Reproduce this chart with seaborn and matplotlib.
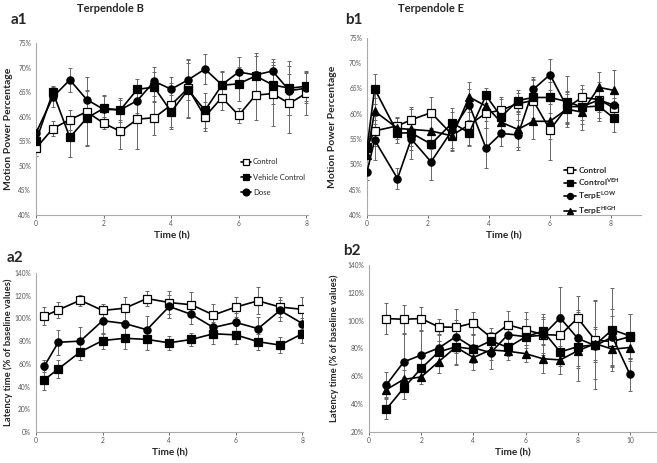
import numpy as np
import pandas as pd
import matplotlib
matplotlib.use('Agg')
import matplotlib.pyplot as plt
import seaborn as sns

# ---- a1 : Terpendole B, motion power ----
a1_t = [0, 0.5, 1, 1.5, 2, 2.5, 3, 3.5, 4, 4.5, 5, 5.5, 6, 6.5, 7, 7.5, 8]
a1_ctrl = [53.6, 57.6, 59.4, 61.0, 58.7, 57.0, 59.5, 59.8, 62.4, 65.8, 60.0, 63.9, 60.3, 64.4, 64.7, 62.7, 64.8]
a1_ctrl_err = [1.5, 1.5, 2.0, 7.0, 1.2, 3.5, 6.0, 3.5, 4.5, 6.0, 3.0, 2.5, 1.5, 5.0, 6.5, 6.0, 4.5]
a1_veh = [55.0, 65.0, 55.8, 59.7, 61.7, 61.4, 65.6, 66.0, 61.0, 65.5, 61.3, 66.4, 66.7, 68.3, 66.5, 65.8, 66.2]
a1_veh_err = [1.5, 1.2, 4.0, 5.5, 2.5, 2.0, 2.0, 3.0, 3.5, 5.5, 3.5, 3.0, 3.5, 4.0, 4.0, 5.5, 3.0]
a1_dose = [56.7, 64.0, 67.5, 63.5, 61.5, 61.4, 63.3, 67.2, 65.6, 67.5, 69.7, 66.5, 69.1, 68.5, 69.3, 65.3, 65.8]
a1_dose_err = [1.0, 2.0, 2.5, 2.0, 3.0, 2.5, 2.5, 3.0, 2.5, 4.0, 3.0, 2.5, 3.0, 4.5, 2.5, 5.0, 3.0]

# ---- b1 : Terpendole E, motion power ----
b1_t = [0, 0.25, 1.0, 1.45, 2.1, 2.8, 3.35, 3.9, 4.4, 4.95, 5.45, 6.0, 6.55, 7.05, 7.6, 8.1]
b1_ctrl = [53.5, 56.6, 57.6, 58.8, 60.2, 55.8, 57.8, 60.1, 60.7, 62.0, 62.6, 56.8, 61.2, 63.2, 62.8, 61.1]
b1_ctrl_err = [2.0, 3.0, 1.8, 2.5, 3.0, 3.0, 4.0, 3.0, 2.5, 2.0, 4.0, 6.0, 3.0, 2.5, 2.5, 2.0]
b1_veh = [53.2, 64.9, 56.2, 56.2, 54.0, 58.2, 56.2, 63.6, 59.4, 62.6, 63.2, 63.2, 62.4, 61.3, 61.5, 59.1]
b1_veh_err = [2.0, 3.0, 2.0, 2.5, 3.0, 3.0, 2.5, 1.5, 3.5, 2.0, 4.0, 3.0, 5.0, 2.5, 3.0, 2.8]
b1_low = [48.5, 54.8, 47.2, 55.0, 50.5, 56.8, 61.8, 53.2, 56.1, 55.8, 64.8, 67.7, 61.4, 61.4, 62.7, 61.7]
b1_low_err = [1.5, 4.0, 2.0, 4.0, 3.5, 3.5, 3.0, 4.0, 2.5, 3.0, 2.0, 3.0, 3.0, 3.5, 3.5, 3.0]
b1_high = [51.8, 60.5, 57.1, 56.9, 56.6, 55.6, 63.3, 61.5, 58.3, 56.9, 58.5, 58.5, 60.9, 60.3, 65.2, 64.6]
b1_high_err = [1.5, 2.5, 2.0, 4.0, 3.5, 3.0, 3.0, 3.0, 3.0, 3.5, 3.5, 3.5, 3.0, 3.5, 3.0, 4.0]

# ---- a2 : Terpendole B, latency ----
a2_t = [0.25, 0.67, 1.33, 2, 2.67, 3.33, 4, 4.67, 5.33, 6, 6.67, 7.33, 8]
a2_ctrl = [102, 107.5, 116, 107, 109, 117.5, 114, 112, 103, 110, 115.5, 110, 108]
a2_ctrl_err = [8, 7, 5, 6, 10, 7, 10, 11, 10, 9, 12, 9, 11]
a2_veh = [46, 55.5, 70.5, 80.5, 82.5, 81.5, 78.5, 81.5, 86.5, 85.5, 79.5, 76.5, 86.5]
a2_veh_err = [9, 8, 7, 7, 9, 9, 6, 6, 9, 8, 7, 7, 8]
a2_dose = [58, 79, 80, 98, 95.5, 90, 110.5, 103.5, 92, 96.5, 91, 107, 95.5]
a2_dose_err = [5, 11, 12, 12, 10, 12, 10, 8, 5, 8, 10, 9, 5]

# ---- b2 : Terpendole E, latency ----
b2_t = [0.67, 1.33, 2, 2.67, 3.33, 4, 4.67, 5.33, 6, 6.67, 7.33, 8, 8.67, 9.33, 10]
b2_ctrl = [101.5, 101, 101.5, 95.5, 95.2, 98.3, 88, 97, 93.5, 90, 89.5, 101.8, 86, 85, 88.5]
b2_ctrl_err = [11, 10, 8, 6, 13, 8, 7, 10, 13, 15, 15, 16, 28, 18, 16]
b2_veh = [36.5, 51.6, 65.7, 77.5, 81.2, 79.5, 85.5, 80.8, 88.3, 92.5, 77.5, 81.3, 82.6, 93.5, 89]
b2_veh_err = [7, 8, 8, 8, 13, 10, 6, 6, 6, 9, 10, 25, 32, 30, 16]
b2_low = [54, 70.3, 75.3, 80.3, 88.5, 80.5, 77, 90, 88.5, 89.5, 102, 87.3, 82, 88.3, 61.5]
b2_low_err = [9, 20, 17, 10, 12, 10, 12, 10, 13, 13, 22, 20, 12, 20, 12]
b2_high = [50.5, 57.8, 59.5, 70.5, 81, 73.5, 79, 78, 76.3, 72.6, 71.8, 78.3, 83.5, 79.5, 80.7]
b2_high_err = [6, 7, 5, 8, 12, 9, 7, 6, 6, 10, 10, 12, 12, 12, 10]

sns.set_style('white')
plt.rcParams['font.family'] = ['Lato', 'DejaVu Sans']

fig = plt.figure(figsize=(6.57, 4.63), dpi=100)
ax_a1 = fig.add_axes([0.0548, 0.5356, 0.4140, 0.3715])
ax_b1 = fig.add_axes([0.5586, 0.5356, 0.4178, 0.3830])
ax_a2 = fig.add_axes([0.0548, 0.0670, 0.4064, 0.3434])
ax_b2 = fig.add_axes([0.5616, 0.0670, 0.4368, 0.3607])

styles = {
    'open_sq': dict(marker='s', markerfacecolor='white'),
    'sq': dict(marker='s', markerfacecolor='black'),
    'circ': dict(marker='o', markerfacecolor='black'),
    'tri': dict(marker='^', markerfacecolor='black'),
}


def draw(ax, t, y, err, key, label):
    ax.errorbar(t, y, yerr=err, fmt='none', ecolor='#666666', elinewidth=0.7,
                capsize=1.3, capthick=0.7, zorder=1)
    df = pd.DataFrame({'t': t, 'y': y})
    sns.lineplot(data=df, x='t', y='y', ax=ax, color='black', linewidth=1.2,
                 markersize=5.2, markeredgecolor='black', markeredgewidth=0.9,
                 label=label, zorder=3, **styles[key])


draw(ax_a1, a1_t, a1_ctrl, a1_ctrl_err, 'open_sq', 'Control')
draw(ax_a1, a1_t, a1_veh, a1_veh_err, 'sq', 'Vehicle Control')
draw(ax_a1, a1_t, a1_dose, a1_dose_err, 'circ', 'Dose')

draw(ax_b1, b1_t, b1_ctrl, b1_ctrl_err, 'open_sq', 'Control')
draw(ax_b1, b1_t, b1_veh, b1_veh_err, 'sq', r'Control$^{\mathregular{VEH}}$')
draw(ax_b1, b1_t, b1_low, b1_low_err, 'circ', r'TerpE$^{\mathregular{LOW}}$')
draw(ax_b1, b1_t, b1_high, b1_high_err, 'tri', r'TerpE$^{\mathregular{HIGH}}$')

draw(ax_a2, a2_t, a2_ctrl, a2_ctrl_err, 'open_sq', None)
draw(ax_a2, a2_t, a2_veh, a2_veh_err, 'sq', None)
draw(ax_a2, a2_t, a2_dose, a2_dose_err, 'circ', None)

draw(ax_b2, b2_t, b2_ctrl, b2_ctrl_err, 'open_sq', None)
draw(ax_b2, b2_t, b2_veh, b2_veh_err, 'sq', None)
draw(ax_b2, b2_t, b2_low, b2_low_err, 'circ', None)
draw(ax_b2, b2_t, b2_high, b2_high_err, 'tri', None)

# axes setup
ax_a1.set_xlim(0, 8.05)
ax_a1.set_ylim(40, 75)
ax_b1.set_xlim(0, 9)
ax_b1.set_ylim(40, 75)
ax_a2.set_xlim(0, 8.02)
ax_a2.set_ylim(0, 140)
ax_b2.set_xlim(0, 11)
ax_b2.set_ylim(20, 140)

for ax in [ax_a1, ax_b1]:
    ax.set_yticks(np.arange(40, 76, 5))
    ax.set_yticklabels(['{}%'.format(v) for v in range(40, 76, 5)])
    ax.set_ylabel('Motion Power Percentage', fontsize=7.5, fontweight='bold')
ax_a2.set_yticks(np.arange(0, 141, 20))
ax_a2.set_yticklabels(['{}%'.format(v) for v in range(0, 141, 20)])
ax_b2.set_yticks(np.arange(20, 141, 20))
ax_b2.set_yticklabels(['{}%'.format(v) for v in range(20, 141, 20)])
for ax in [ax_a2, ax_b2]:
    ax.set_ylabel('Latency time (% of baseline values)', fontsize=6.8, fontweight='bold')

ax_a1.yaxis.set_label_coords(-0.086, 0.5)
ax_b1.yaxis.set_label_coords(-0.108, 0.5)
ax_a2.yaxis.set_label_coords(-0.088, 0.5)
ax_b2.yaxis.set_label_coords(-0.106, 0.5)

for ax in [ax_a1, ax_b1, ax_a2, ax_b2]:
    ax.set_xticks(np.arange(0, ax.get_xlim()[1] + 0.01, 2).round())
    ax.set_xlabel('Time (h)', fontsize=7.2, fontweight='bold', labelpad=3)
    ax.tick_params(axis='both', labelsize=4.8, colors='#555555', length=2, width=0.6,
                   pad=1.5, direction='out', bottom=True, left=False)
    for s in ['top', 'right']:
        ax.spines[s].set_visible(False)
    for s in ['left', 'bottom']:
        ax.spines[s].set_color('#aaaaaa')
        ax.spines[s].set_linewidth(0.8)
    ax.grid(False)

ax_a1.legend(loc='upper left', bbox_to_anchor=(0.73, 0.37), frameon=False,
             fontsize=5.5, handlelength=1.3, handletextpad=0.2, labelspacing=1.1,
             markerscale=0.95)
ax_b1.legend(loc='upper left', bbox_to_anchor=(0.7, 0.3), frameon=False,
             handlelength=1.4, handletextpad=0.3, labelspacing=0.25, markerscale=0.85,
             borderaxespad=0.2, prop={'weight': 'bold', 'size': 6})

fig.text(0.117, 0.993, 'Terpendole B', fontsize=8, fontweight='bold', va='top')
fig.text(0.606, 0.993, 'Terpendole E', fontsize=8, fontweight='bold', va='top')
fig.text(0.016, 0.972, 'a1', fontsize=11, fontweight='bold', va='top')
fig.text(0.525, 0.972, 'b1', fontsize=11, fontweight='bold', va='top')
fig.text(0.010, 0.458, 'a2', fontsize=11, fontweight='bold', va='top')
fig.text(0.522, 0.474, 'b2', fontsize=11, fontweight='bold', va='top')

fig.savefig('out.png', dpi=100)
